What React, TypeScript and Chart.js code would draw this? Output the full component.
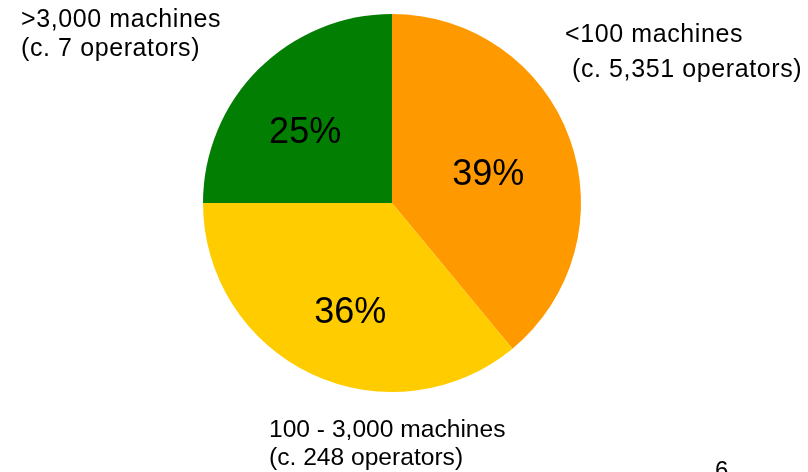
import React, { useEffect, useRef } from "react";
import { Chart, registerables } from "chart.js";

Chart.register(...registerables);

// Share of installed machines by operator size
const segments = ["<100 machines", "100 - 3,000 machines", ">3,000 machines"];
const shares = [39, 36, 25];
const sliceColors = ["#FF9900", "#FFCC00", "#027F02"];
const percentLabels = ["39%", "36%", "25%"];

// Callout text boxes around the pie
const calloutLines = [
  ">3,000 machines",
  "(c. 7 operators)",
  "<100 machines",
  "(c. 5,351 operators)",
  "100 - 3,000 machines",
  "(c. 248 operators)",
];
const pageNumber = "6";

const FONT = '"Liberation Sans", Arial, Helvetica, sans-serif';

const labelPlugin = {
  id: "sliceLabels",
  afterDatasetsDraw(chart: any) {
    const ctx = chart.ctx;
    const meta = chart.getDatasetMeta(0);
    ctx.save();
    ctx.fillStyle = "#000000";
    // percentage inside each slice, pushed out along the slice's mid angle
    const size = 36;
    ctx.font = `${size}px ${FONT}`;
    ctx.textAlign = "center";
    ctx.textBaseline = "alphabetic";
    const frac = [0.535, 0.61, 0.6];
    const nudge = [2, -4, -5];
    meta.data.forEach((arc: any, i: number) => {
      const { x, y, startAngle, endAngle, outerRadius } = arc.getProps(
        ["x", "y", "startAngle", "endAngle", "outerRadius"],
        true
      );
      const mid = (startAngle + endAngle) / 2 + (nudge[i] * Math.PI) / 180;
      const r = outerRadius * frac[i];
      const cx = x + Math.cos(mid) * r;
      const cy = y + Math.sin(mid) * r;
      ctx.fillText(percentLabels[i], cx, cy + size * 0.358);
    });

    // callouts
    ctx.textAlign = "left";
    const spots: [number, number][] = [
      [21, 27],
      [21, 56],
      [565, 42],
      [572, 77],
      [269, 437],
      [269, 465],
    ];
    calloutLines.forEach((t, i) => {
      if (i < 4) {
        ctx.font = `25px ${FONT}`;
        (ctx as any).letterSpacing = "0.6px";
      } else {
        ctx.font = `24.6px ${FONT}`;
        (ctx as any).letterSpacing = "0px";
      }
      ctx.fillText(t, spots[i][0], spots[i][1]);
    });
    ctx.font = `24px ${FONT}`;
    (ctx as any).letterSpacing = "0px";
    ctx.fillText(pageNumber, 715, 478);
    ctx.restore();
  },
};

export default function App() {
  const ref = useRef<HTMLCanvasElement | null>(null);

  useEffect(() => {
    document.body.style.margin = "0";
    const canvas = ref.current;
    if (!canvas) return;
    const chart = new Chart(canvas, {
      type: "pie",
      data: {
        labels: segments,
        datasets: [
          {
            data: shares,
            backgroundColor: sliceColors,
            borderWidth: 0,
          },
        ],
      },
      options: {
        responsive: false,
        animation: false,
        devicePixelRatio: 1,
        layout: { padding: { left: 203, right: 227, top: 14, bottom: 80 } },
        plugins: {
          legend: { display: false },
          tooltip: { enabled: false },
        },
      },
      plugins: [labelPlugin],
    });
    return () => chart.destroy();
  }, []);

  return (
    <div style={{ width: 808, height: 472, background: "#ffffff", position: "relative" }}>
      <canvas ref={ref} width={808} height={472} style={{ display: "block" }} />
    </div>
  );
}
